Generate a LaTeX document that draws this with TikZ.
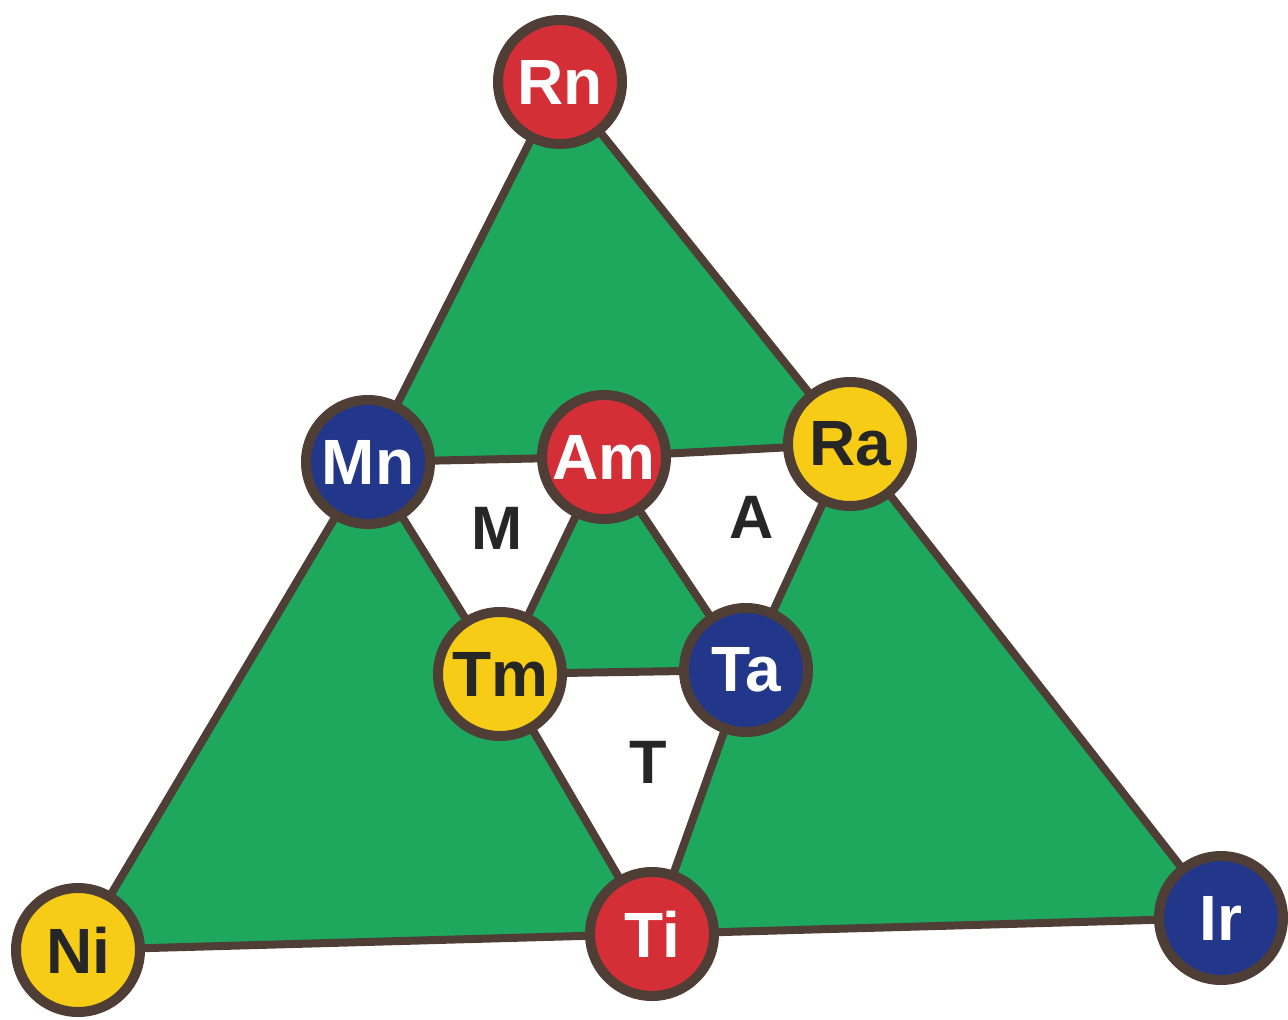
\documentclass[tikz,border=0pt]{standalone}
\usepackage{fontspec}
\setmainfont{Liberation Sans}
\usetikzlibrary{backgrounds}
\definecolor{leaf}{RGB}{30,168,94}
\definecolor{rim}{RGB}{78,62,54}
\definecolor{redel}{RGB}{212,46,54}
\definecolor{blueel}{RGB}{34,54,138}
\definecolor{yellowel}{RGB}{246,204,22}
\definecolor{ink}{RGB}{38,38,38}
\tikzset{
  elem/.style={circle, draw=rim, line width=7.5pt, minimum size=93pt, inner sep=0pt,
    font=\fontsize{48}{48}\selectfont\bfseries},
  redball/.style={elem, fill=redel, text=white},
  blueball/.style={elem, fill=blueel, text=white},
  yellowball/.style={elem, fill=yellowel, text=ink},
  edge/.style={draw=rim, line width=6pt, line cap=round},
  zone/.style={fill=leaf},
  tag/.style={font=\fontsize{46}{46}\selectfont\bfseries, text=ink}
}
\begin{document}
\begin{tikzpicture}[x=0.75pt,y=-0.75pt]
\useasboundingbox (0,0) rectangle (1288,1020);
\node[redball] (Rn) at (560,82) {Rn};
\node[blueball] (Mn) at (368,462) {Mn};
\node[redball] (Am) at (604,457) {Am};
\node[yellowball] (Ra) at (850,444) {Ra};
\node[yellowball] (Tm) at (500,674) {Tm};
\node[blueball] (Ta) at (746,670) {Ta};
\node[yellowball] (Ni) at (78,950) {Ni};
\node[redball] (Ti) at (652,934) {Ti};
\node[blueball] (Ir) at (1221,918) {Ir};
\node[tag] (M) at (497,528) {M};
\node[tag] (A) at (752,517) {A};
\node[tag] (T) at (648,762) {T};
\begin{pgfonlayer}{background}
\fill[zone] (Rn.center) -- (Mn.center) -- (Am.center) -- (Ra.center) -- cycle;
\fill[zone] (Mn.center) -- (Tm.center) -- (Ti.center) -- (Ni.center) -- cycle;
\fill[zone] (Ra.center) -- (Ta.center) -- (Ti.center) -- (Ir.center) -- cycle;
\fill[zone] (Am.center) -- (Tm.center) -- (Ta.center) -- cycle;
\draw[edge] (Rn) -- (Mn);
\draw[edge] (Rn) -- (Ra);
\draw[edge] (Mn) -- (Ni);
\draw[edge] (Ra) -- (Ir);
\draw[edge] (Ni) -- (Ti);
\draw[edge] (Ti) -- (Ir);
\draw[edge] (Mn) -- (Am);
\draw[edge] (Am) -- (Ra);
\draw[edge] (Mn) -- (Tm);
\draw[edge] (Ra) -- (Ta);
\draw[edge] (Tm) -- (Ti);
\draw[edge] (Ta) -- (Ti);
\draw[edge] (Am) -- (Tm);
\draw[edge] (Am) -- (Ta);
\draw[edge] (Tm) -- (Ta);
\end{pgfonlayer}
\end{tikzpicture}
\end{document}
